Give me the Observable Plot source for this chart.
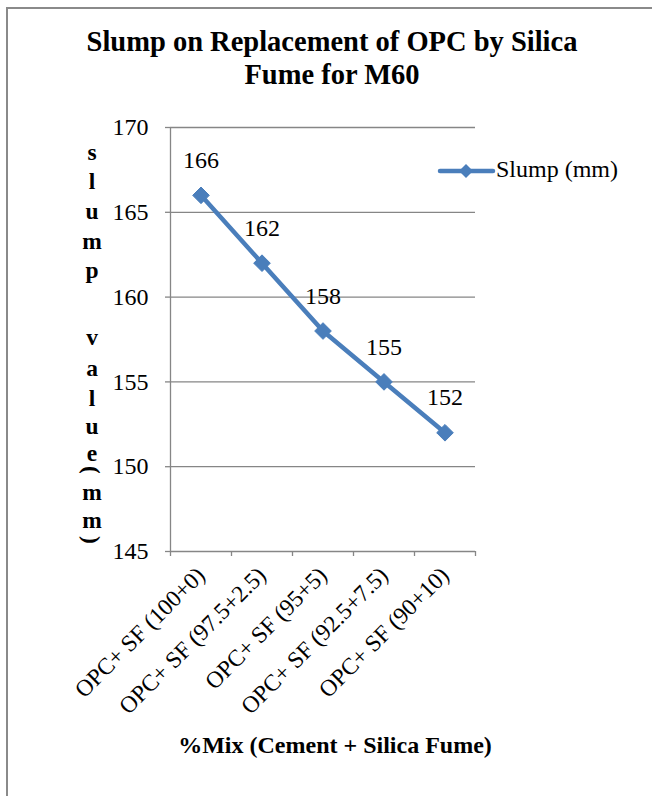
<!DOCTYPE html>
<html>
<head>
<meta charset="utf-8">
<script src="https://cdn.jsdelivr.net/npm/d3@7"></script>
<script src="https://cdn.jsdelivr.net/npm/@observablehq/plot@0.6"></script>
<style>
  body { margin: 0; background: #fff; font-family: "Liberation Serif", "Times New Roman", serif; }
  #page { position: relative; width: 652px; height: 796px; overflow: hidden; }
  #frame { position: absolute; left: 6px; top: 7px; width: 800px; height: 900px;
           border-left: 2px solid #8a8a8a; border-top: 2px solid #8a8a8a; }
  #title { position: absolute; left: 0; top: 25px; width: 664px; text-align: center;
           font-weight: bold; font-size: 28.5px; line-height: 33px; color: #000; }
  #chart { position: absolute; left: 0; top: 0; }
  #chart svg text { font-family: "Liberation Serif", "Times New Roman", serif; }
  #xtitle { position: absolute; left: 0; width: 670px; top: 732px; text-align: center;
            font-weight: bold; font-size: 24px; color: #000; }
  .ych { position: absolute; left: 80px; width: 24px; height: 26px; text-align: center;
         font-weight: bold; font-size: 23.5px; line-height: 26px; color: #000; }
  #legend { position: absolute; left: 436px; top: 156px; display: flex; align-items: center;
            font-size: 24px; color: #000; }
</style>
</head>
<body>
<div id="page">
  <div id="frame"></div>
  <div id="chart"></div>
  <div id="title">Slump on Replacement of OPC by Silica<br>Fume for M60</div>
  <div id="ytitle"></div>
  <div id="xtitle"></div>
  <div id="legend"></div>
</div>
<script>
// ---- data ----
const categories = ["OPC+ SF (100+0)", "OPC+ SF (97.5+2.5)", "OPC+ SF (95+5)", "OPC+ SF (92.5+7.5)", "OPC+ SF (90+10)"];
const slump = [166, 162, 158, 155, 152];
const yTicks = [145, 150, 155, 160, 165, 170];
const seriesName = "Slump (mm)";
const xTitle = "%Mix (Cement + Silica Fume)";
const yTitleChars = ["s", "l", "u", "m", "p", " ", "v", "a", "l", "u", "e", "(", "m", "m", ")"];

const blue = "#4a7ebb";
const gray = "#868686";
const serif = "'Liberation Serif', 'Times New Roman', serif";

const data = categories.map((c, i) => ({i, c, v: slump[i]}));
const boundaries = d3.range(categories.length + 1).map(k => k - 0.5);

const chart = Plot.plot({
  width: 652,
  height: 796,
  marginLeft: 170,
  marginRight: 177,
  marginTop: 127,
  marginBottom: 245,
  style: {fontFamily: serif, fontSize: "24px", color: "#000", background: "transparent", overflow: "visible"},
  x: {type: "linear", domain: [-0.5, categories.length - 0.5]},
  y: {domain: [145, 170]},
  marks: [
    Plot.gridY(yTicks, {stroke: gray, strokeOpacity: 1, strokeWidth: 1.3}),
    Plot.ruleX([-0.5], {stroke: gray, strokeWidth: 1.3}),
    Plot.axisY({ticks: yTicks, tickSize: 5, tickPadding: 17, stroke: gray, strokeWidth: 1.3, label: null,
                fontSize: 24, fontFamily: serif, tickFormat: d => String(d)}),
    Plot.axisX({ticks: boundaries, tickSize: 5, tickFormat: () => "", stroke: gray, strokeWidth: 1.3, label: null}),
    Plot.axisX({ticks: d3.range(categories.length), tickSize: 0, tickPadding: 20, tickRotate: -45,
                tickFormat: i => categories[i], label: null, fontSize: 23.5, fontFamily: serif}),
    Plot.line(data, {x: "i", y: "v", stroke: blue, strokeWidth: 4.5}),
    Plot.dot(data, {x: "i", y: "v", symbol: "diamond2", r: 7.5, fill: blue, stroke: blue, strokeWidth: 1}),
    Plot.text(data, {x: "i", y: "v", text: d => String(d.v), dy: -35, fontSize: 24, fontFamily: serif, fill: "#000"})
  ]
});
document.getElementById("chart").appendChild(chart);

// x title
document.getElementById("xtitle").textContent = xTitle;

// y title: stacked characters (vertical centers of each glyph)
const yCenters = [155, 184, 214, 244, 273, null, 340, 371, 401, 429, 456, 470, 495, 523, 540];
const yt = document.getElementById("ytitle");
yTitleChars.forEach((ch, k) => {
  if (ch === " ") return;
  const el = document.createElement("div");
  el.className = "ych";
  const isParen = ch === "(" || ch === ")";
  if (isParen) {
    const sp = document.createElement("span");
    sp.textContent = ch;
    sp.style.display = "inline-block";
    sp.style.transform = "rotate(90deg)";
    el.appendChild(sp);
    el.style.top = (yCenters[k] - 13) + "px";
  } else {
    el.textContent = ch;
    el.style.top = (yCenters[k] - 16) + "px";
  }
  yt.appendChild(el);
});

// legend
const lg = document.getElementById("legend");
lg.innerHTML = `<svg width="60" height="26" style="overflow:visible">
  <line x1="4" y1="14" x2="57" y2="14" stroke="${blue}" stroke-width="4.5" stroke-linecap="round"/>
  <path d="M30,7 L37,14 L30,21 L23,14 Z" fill="${blue}"/>
</svg><span style="margin-left:0px">${seriesName}</span>`;
</script>
</body>
</html>
